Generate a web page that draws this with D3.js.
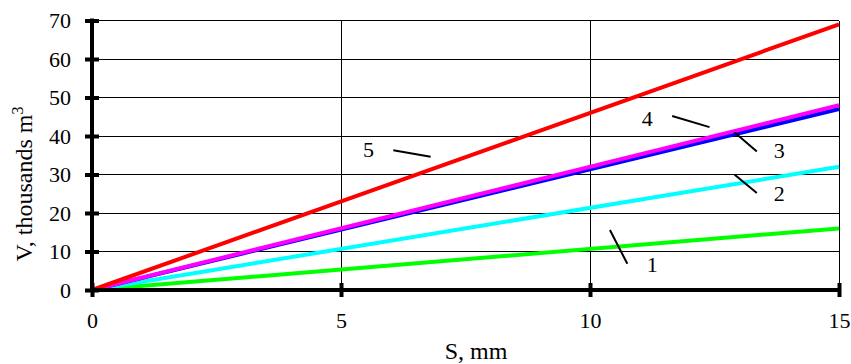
<!doctype html>
<html>
<head>
<meta charset="utf-8">
<title>V vs S</title>
<script src="https://cdn.jsdelivr.net/npm/d3@7"></script>
<style>
*{margin:0;padding:0;}
body{background:white;}
text{font-family:"Liberation Serif","Times New Roman",serif;font-size:22px;fill:#000;}
</style>
</head>
<body>
<script>
// data
var sValues = [0, 15];
var seriesNames = ["1", "2", "3", "4", "5"];
var seriesEnd = [16, 32, 47, 48, 69];
var seriesColors = ["#00ff00", "#00ffff", "#0000ff", "#ff00ff", "#ff0000"];
var xTicks = [0, 5, 10, 15];
var yTicks = [0, 10, 20, 30, 40, 50, 60, 70];
// label leader positions in data units
var labels = [
  {name: "1", tx: 11.25, ty: 4.6, x1: 10.4, y1: 15.6, x2: 10.75, y2: 6.8},
  {name: "2", tx: 13.8, ty: 23.0, x1: 12.9, y1: 30.0, x2: 13.35, y2: 25.2},
  {name: "3", tx: 13.8, ty: 34.3, x1: 12.9, y1: 41.0, x2: 13.35, y2: 36.0},
  {name: "4", tx: 11.15, ty: 42.5, x1: 11.65, y1: 45.2, x2: 12.4, y2: 42.3},
  {name: "5", tx: 5.55, ty: 34.5, x1: 6.05, y1: 36.3, x2: 6.8, y2: 34.6}
];

var W = 851, H = 364;
var svg = d3.select("body").append("svg").attr("width", W).attr("height", H);

var x = d3.scaleLinear().domain([0, 15]).range([92, 839]);
var y = d3.scaleLinear().domain([0, 70]).range([290, 20.5]);

// grid
svg.append("g").selectAll("line").data(yTicks.slice(1)).enter().append("line")
  .attr("x1", x(0)).attr("x2", x(15))
  .attr("y1", function(d){ return y(d); }).attr("y2", function(d){ return y(d); })
  .attr("stroke", "#000").attr("stroke-width", 1).attr("shape-rendering", "crispEdges");
svg.append("g").selectAll("line").data(xTicks.slice(1)).enter().append("line")
  .attr("x1", function(d){ return x(d); }).attr("x2", function(d){ return x(d); })
  .attr("y1", y(0)).attr("y2", y(70))
  .attr("stroke", "#000").attr("stroke-width", 1).attr("shape-rendering", "crispEdges");

// series
var line = d3.line().x(function(d){ return x(d[0]); }).y(function(d){ return y(d[1]); });
seriesEnd.forEach(function(v, i){
  svg.append("path")
    .datum(sValues.map(function(s){ return [s, v * s / 15]; }))
    .attr("d", line)
    .attr("fill", "none")
    .attr("stroke", seriesColors[i])
    .attr("stroke-width", 4);
});

// axes
var xAxis = d3.axisBottom(x).tickValues(xTicks).tickSize(0).tickPadding(22);
var gx = svg.append("g").attr("transform", "translate(0," + y(0) + ")").call(xAxis)
  .attr("font-family", null).attr("font-size", null);
gx.select(".domain").attr("stroke-width", 4).attr("d", "M" + (x(0) - 2) + ",0H" + (x(15) + 2));
gx.selectAll(".tick").append("line").attr("y1", -7).attr("y2", 7).attr("stroke", "#000").attr("stroke-width", 4);

var yAxis = d3.axisLeft(y).tickValues(yTicks).tickSize(0).tickPadding(21);
var gy = svg.append("g").attr("transform", "translate(" + x(0) + ",0)").call(yAxis)
  .attr("font-family", null).attr("font-size", null);
gy.select(".domain").attr("stroke-width", 4).attr("d", "M0," + (y(0) + 2) + "V" + (y(70) - 2));
gy.selectAll(".tick").append("line").attr("x1", -7).attr("x2", 7).attr("stroke", "#000").attr("stroke-width", 4);

// annotations
labels.forEach(function(l){
  svg.append("line")
    .attr("x1", x(l.x1)).attr("y1", y(l.y1)).attr("x2", x(l.x2)).attr("y2", y(l.y2))
    .attr("stroke", "#000").attr("stroke-width", 2);
  svg.append("text").attr("x", x(l.tx)).attr("y", y(l.ty))
    .attr("text-anchor", "middle").text(l.name);
});

// axis titles
svg.append("text").attr("x", 476).attr("y", 359).attr("text-anchor", "middle")
  .style("font-size", "24px").text("S, mm");
var yt = svg.append("text").attr("transform", "translate(32,184) rotate(-90)")
  .attr("text-anchor", "middle").style("font-size", "24px");
yt.append("tspan").text("V, thousands m");
yt.append("tspan").attr("dy", -9).style("font-size", "16px").text("3");
</script>
</body>
</html>
